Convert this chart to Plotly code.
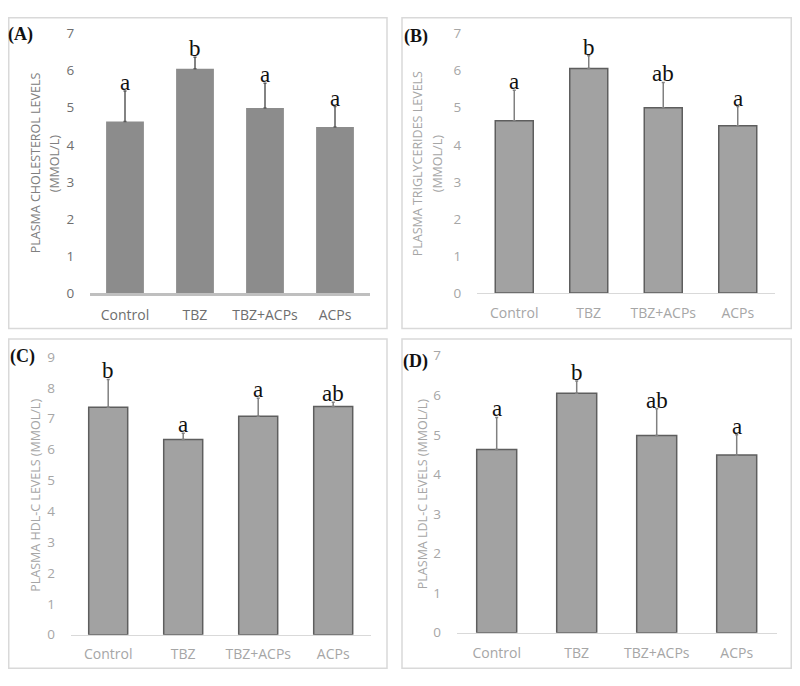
import plotly.graph_objects as go

# The page body adds an 8px margin on every side, so the figure is sized to
# fill exactly the 800x686 window once that margin is included.
PAGE_W, PAGE_H = 800, 686
OFF = 8
W, H = PAGE_W - 2 * OFF, PAGE_H - 2 * OFF

groups = ["Control", "TBZ", "TBZ+ACPs", "ACPs"]

chol_mean = [4.63, 6.05, 4.99, 4.48]
chol_sd = [0.82, 0.31, 0.67, 0.55]
chol_letters = ["a", "b", "a", "a"]

tg_mean = [4.65, 6.06, 5.00, 4.51]
tg_sd = [0.82, 0.34, 0.68, 0.52]
tg_letters = ["a", "b", "ab", "a"]

hdl_mean = [7.37, 6.32, 7.08, 7.39]
hdl_sd = [0.90, 0.21, 0.58, 0.14]
hdl_letters = ["b", "a", "a", "ab"]

ldl_mean = [4.63, 6.05, 4.98, 4.49]
ldl_sd = [0.81, 0.31, 0.68, 0.51]
ldl_letters = ["a", "b", "ab", "a"]

yticks_7 = [0, 1, 2, 3, 4, 5, 6, 7]
yticks_9 = [0, 1, 2, 3, 4, 5, 6, 7, 8, 9]

# panel geometry in page pixels
panels = [
    dict(tag="(A)", mean=chol_mean, sd=chol_sd, letters=chol_letters, ymax=7, ticks=yticks_7,
         px=(90, 370), py=(25, 291.7), frame=(4, 387, 5, 328), width=0.54,
         fill="#8c8c8c", border="#8c8c8c", bw=0, err="#5a5a5a",
         axis_col="#bfbfbf", axis_w=2.5, tick_col="#6e6e6e", title_col="#808080",
         title=["PLASMA CHOLESTEROL LEVELS", "(MMOL/L)"], title_x=[35, 54],
         label_xy=(20, 26)),
    dict(tag="(B)", mean=tg_mean, sd=tg_sd, letters=tg_letters, ymax=7, ticks=yticks_7,
         px=(477, 775), py=(25, 291.7), frame=(402, 793, 7, 328), width=0.51,
         fill="#a2a2a2", border="#5e5e5e", bw=1.5, err="#808080",
         axis_col="#d9d9d9", axis_w=1, tick_col="#a6a6a6", title_col="#a6a6a6",
         title=["PLASMA TRIGLYCERIDES LEVELS", "(MMOL/L)"], title_x=[417, 437],
         label_xy=(416, 28)),
    dict(tag="(C)", mean=hdl_mean, sd=hdl_sd, letters=hdl_letters, ymax=9, ticks=yticks_9,
         px=(70.7, 370.7), py=(357.3, 642.7), frame=(5, 387, 339, 680), width=0.52,
         fill="#a2a2a2", border="#5e5e5e", bw=1.5, err="#808080",
         axis_col="#d9d9d9", axis_w=1, tick_col="#a6a6a6", title_col="#a6a6a6",
         title=["PLASMA HDL-C LEVELS (MMOL/L)"], title_x=[36],
         label_xy=(22, 357)),
    dict(tag="(D)", mean=ldl_mean, sd=ldl_sd, letters=ldl_letters, ymax=7, ticks=yticks_7,
         px=(456.7, 776.7), py=(356, 640.7), frame=(402, 795, 339, 678), width=0.5,
         fill="#a2a2a2", border="#5e5e5e", bw=1.5, err="#808080",
         axis_col="#d9d9d9", axis_w=1, tick_col="#a6a6a6", title_col="#a6a6a6",
         title=["PLASMA LDL-C LEVELS (MMOL/L)"], title_x=[422],
         label_xy=(415, 362)),
]


def fx(v):
    return min(max(v - OFF, 0.75), W - 0.75) / W


def fy(v):
    return 1 - min(max(v - OFF, 0.75), H - 0.75) / H


fig = go.Figure()
shapes = []
annotations = []
layout = {}

for i, p in enumerate(panels, start=1):
    sfx = "" if i == 1 else str(i)
    xa, ya = "x" + sfx, "y" + sfx
    fig.add_trace(go.Bar(
        x=groups, y=p["mean"], xaxis=xa, yaxis=ya, width=p["width"],
        marker=dict(color=p["fill"], line=dict(color=p["border"], width=p["bw"])),
        error_y=dict(type="data", array=p["sd"], arrayminus=[0] * 4, symmetric=False,
                     color=p["err"], thickness=1.5, width=1.5),
        showlegend=False, hoverinfo="skip",
    ))
    x0, x1 = p["px"]
    yt, yb = p["py"]
    layout["xaxis" + sfx] = dict(
        domain=[fx(x0), fx(x1)], anchor=ya, type="category", range=[-0.5, 3.5],
        showline=True, linecolor=p["axis_col"], linewidth=p["axis_w"],
        showgrid=False, zeroline=False, ticks="outside", ticklen=7,
        tickcolor="rgba(0,0,0,0)",
        tickfont=dict(family="Open Sans", size=14, color=p["tick_col"]),
    )
    layout["yaxis" + sfx] = dict(
        domain=[fy(yb), fy(yt)], anchor=xa, range=[0, p["ymax"]],
        tickvals=p["ticks"], showline=False, showgrid=False, zeroline=False,
        ticks="outside", ticklen=12, tickcolor="rgba(0,0,0,0)",
        tickfont=dict(family="Open Sans", size=13.5, color=p["tick_col"]),
    )
    # panel frame
    f0, f1, g0, g1 = p["frame"]
    shapes.append(dict(type="rect", xref="paper", yref="paper",
                       x0=fx(f0), x1=fx(f1), y0=fy(g1), y1=fy(g0),
                       line=dict(color="#d9d9d9", width=1.5), fillcolor="rgba(0,0,0,0)"))
    # significance letters
    for g, m, s, l in zip(groups, p["mean"], p["sd"], p["letters"]):
        annotations.append(dict(x=g, y=m + s, xref=xa, yref=ya, text=l, showarrow=False,
                                yanchor="bottom", yshift=-6,
                                font=dict(family="Liberation Serif", size=23, color="#111111")))
    # y-axis title
    yc = (fy(yt) + fy(yb)) / 2
    for t, tx in zip(p["title"], p["title_x"]):
        annotations.append(dict(x=fx(tx), y=yc, xref="paper", yref="paper", text=t,
                                textangle=-90, showarrow=False, xanchor="center", yanchor="middle",
                                font=dict(family="Open Sans", size=12.5, color=p["title_col"])))
    # panel tag
    lx, ly = p["label_xy"]
    annotations.append(dict(x=fx(lx), y=fy(ly), xref="paper", yref="paper",
                            text="<b>" + p["tag"] + "</b>", showarrow=False,
                            xanchor="center", yanchor="middle",
                            font=dict(family="Liberation Serif", size=18, color="#111111")))

fig.update_layout(
    width=W, height=H, margin=dict(l=0, r=0, t=0, b=0),
    paper_bgcolor="white", plot_bgcolor="white",
    shapes=shapes, annotations=annotations, **layout,
)

fig.write_html("out.html", config={"displayModeBar": False})
